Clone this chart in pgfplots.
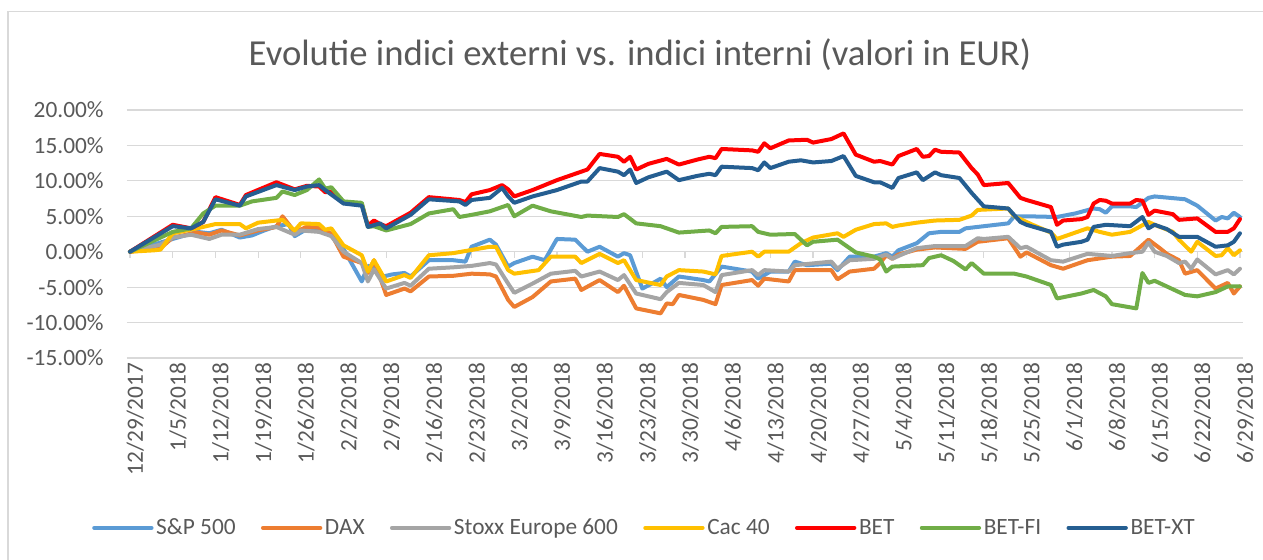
\documentclass[border=0pt]{standalone}
\usepackage{pgfplots}
\pgfplotsset{compat=1.18}
\usepackage{fontspec}
\setmainfont{Carlito}
\definecolor{txt}{HTML}{595959}
\definecolor{gridc}{HTML}{D9D9D9}
\definecolor{csp}{HTML}{5B9BD5}
\definecolor{cdax}{HTML}{ED7D31}
\definecolor{cstoxx}{HTML}{A5A5A5}
\definecolor{ccac}{HTML}{FFC000}
\definecolor{cbet}{HTML}{FF0000}
\definecolor{cbetfi}{HTML}{70AD47}
\definecolor{cbetxt}{HTML}{255E91}
\begin{document}
\begin{tikzpicture}
\useasboundingbox (0pt,0pt) rectangle (947.25pt,420pt);
\draw[gridc, line width=1pt] (6pt,0pt) -- (6pt,411.4pt) -- (947.25pt,411.4pt);
\node[txt, font=\fontsize{27.5}{32}\selectfont] at (480pt,378.75pt) {Evolutie indici externi vs. indici interni (valori in EUR)};
\begin{axis}[
  at={(95.25pt,151.5pt)}, anchor=south west,
  scale only axis, width=837pt, height=186pt,
  xmin=-0.5, xmax=182.5, ymin=-15, ymax=20,
  axis line style={draw=none},
  major tick length=0pt,
  ymajorgrids, grid style={gridc, line width=0.9pt},
  ytick={-15,-10,-5,0,5,10,15,20},
  yticklabels={-15.00\%,-10.00\%,-5.00\%,0.00\%,5.00\%,10.00\%,15.00\%,20.00\%},
  yticklabel style={txt, font=\fontsize{17.5}{20}\selectfont, xshift=-14pt},
  xtick={0,7,14,21,28,35,42,49,56,63,70,77,84,91,98,105,112,119,126,133,140,147,154,161,168,175,182},
  xticklabels={12/29/2017,1/5/2018,1/12/2018,1/19/2018,1/26/2018,2/2/2018,2/9/2018,2/16/2018,2/23/2018,3/2/2018,3/9/2018,3/16/2018,3/23/2018,3/30/2018,4/6/2018,4/13/2018,4/20/2018,4/27/2018,5/4/2018,5/11/2018,5/18/2018,5/25/2018,6/1/2018,6/8/2018,6/15/2018,6/22/2018,6/29/2018},
  xticklabel style={txt, font=\fontsize{17.5}{20}\selectfont, rotate=90, anchor=east, yshift=-4pt},
  every axis plot/.append style={line width=3pt, line join=round, line cap=round},
  legend columns=7,
  legend style={draw=none, fill=none, at={(0.464,-0.685)}, anchor=center, font=\fontsize{17.5}{20}\selectfont, text=txt,
    /tikz/every even column/.append style={column sep=17pt}},
  legend image code/.code={\draw[#1] (0pt,0pt) -- (43pt,0pt);},
  clip=false,
]
\pgfplotsinvokeforeach{0,7,14,21,28,35,42,49,56,63,70,77,84,91,98,105,112,119,126,133,140,147,154,161,168,175,182}{
  \draw[gridc, line width=0.9pt] (axis cs:#1,0) -- ([yshift=-5pt]axis cs:#1,0);
}
\draw[gridc, line width=0.9pt] (axis cs:-0.5,0) -- (axis cs:182.5,0);
% S&P 500
\addplot[csp, no markers] coordinates {(0,0)(5,1.3)(7,1.8)(11,2.8)(13,2.6)(15,3.1)(18,2.0)(20,2.3)(22,3.0)(24,3.6)(26,3.9)(27,2.2)(29,3.2)(31,3.3)(33,2.5)(35,0.4)(38,-4.2)(39,-2.0)(40,-2.2)(41,-3.6)(43,-3.2)(45,-3.0)(46,-3.5)(49,-1.2)(53,-1.2)(55,-1.4)(56,0.7)(59,1.7)(60,1.0)(62,-2.1)(63,-1.6)(66,-0.7)(68,-1.2)(70,1.8)(73,1.7)(75,0.0)(77,0.7)(80,-0.7)(81,-0.2)(82,-0.5)(84,-5.2)(86,-4.3)(87,-3.8)(88,-5.0)(90,-3.5)(94,-4.0)(95,-4.2)(97,-2.1)(102,-2.8)(103,-3.8)(105,-2.8)(108,-2.8)(109,-1.4)(111,-1.9)(115,-1.7)(116,-2.6)(118,-0.7)(122,-0.7)(124,-0.2)(125,-0.7)(126,0.2)(129,1.2)(131,2.6)(133,2.8)(136,2.8)(137,3.3)(140,3.6)(144,4.0)(145,5.0)(147,5.0)(152,4.9)(155,5.4)(158,6.1)(159,6.0)(160,5.5)(161,6.4)(164,6.4)(165,6.3)(167,7.6)(168,7.8)(173,7.4)(175,6.5)(178,4.4)(179,4.9)(180,4.7)(181,5.5)(182,4.9)};
\addlegendentry{S\&P 500}
% DAX
\addplot[cdax, no markers] coordinates {(0,0)(5,0.5)(7,2.0)(11,2.7)(13,2.4)(15,3.0)(18,2.3)(21,3.0)(24,3.5)(25,5.0)(27,2.8)(29,3.5)(31,3.4)(33,2.5)(35,-0.7)(38,-1.6)(39,-3.0)(40,-1.2)(42,-6.1)(45,-5.2)(46,-5.6)(49,-3.5)(53,-3.4)(56,-3.1)(59,-3.2)(60,-3.5)(62,-6.8)(63,-7.8)(66,-6.4)(69,-4.2)(73,-3.8)(74,-5.4)(77,-4.0)(80,-5.7)(81,-4.8)(83,-8.0)(87,-8.7)(88,-7.3)(89,-7.4)(90,-6.1)(94,-6.8)(96,-7.4)(97,-4.7)(102,-4.0)(103,-4.8)(104,-3.8)(108,-4.2)(109,-2.6)(115,-2.6)(116,-3.9)(118,-2.8)(122,-2.4)(123,-1.6)(124,-0.5)(125,-1.0)(126,-0.4)(129,0.3)(132,0.6)(137,0.4)(139,1.4)(144,1.9)(146,-0.7)(147,-0.1)(151,-1.9)(153,-2.4)(157,-1.2)(161,-0.7)(164,-0.6)(167,1.7)(169,0.4)(170,-0.3)(172,-1.2)(173,-3.1)(175,-2.6)(178,-5.2)(180,-4.4)(181,-5.9)(182,-4.9)};
\addlegendentry{DAX}
% Stoxx Europe 600
\addplot[cstoxx, no markers] coordinates {(0,0)(5,1.0)(7,2.0)(10,2.4)(13,1.8)(15,2.4)(18,2.4)(21,3.2)(24,3.5)(27,2.4)(28,3.0)(31,2.8)(33,2.2)(35,0.0)(38,-1.6)(39,-4.2)(40,-2.5)(42,-5.2)(45,-4.4)(46,-4.8)(49,-2.4)(53,-2.2)(56,-2.0)(59,-1.6)(60,-1.8)(62,-4.5)(63,-5.8)(66,-4.5)(69,-3.1)(73,-2.7)(74,-3.5)(77,-2.8)(80,-4.0)(81,-3.3)(83,-5.9)(87,-6.7)(88,-5.7)(90,-4.4)(94,-4.7)(96,-5.7)(97,-3.3)(102,-2.6)(103,-3.3)(104,-2.6)(108,-2.8)(109,-1.9)(115,-1.4)(116,-2.4)(118,-1.2)(122,-1.0)(124,-0.4)(125,-1.0)(126,-0.6)(129,0.5)(132,0.8)(137,0.8)(139,1.9)(140,1.8)(144,2.1)(146,0.5)(147,0.7)(151,-1.2)(153,-1.4)(157,-0.3)(161,-0.6)(164,-0.2)(166,0.0)(167,1.3)(168,0.0)(170,-0.6)(172,-1.6)(173,-1.4)(174,-2.4)(175,-1.1)(178,-3.2)(180,-2.6)(181,-3.2)(182,-2.4)};
\addlegendentry{Stoxx Europe 600}
% Cac 40
\addplot[ccac, no markers] coordinates {(0,0)(4,0.2)(5,0.3)(7,2.6)(11,3.3)(14,3.9)(18,3.9)(19,3.3)(21,4.1)(24,4.4)(25,4.5)(27,3.0)(28,4.0)(31,3.9)(32,3.1)(33,3.3)(35,0.9)(38,-0.5)(39,-2.8)(40,-1.2)(42,-4.2)(45,-3.3)(46,-3.7)(49,-0.5)(53,-0.2)(59,0.7)(60,0.7)(62,-2.6)(63,-3.1)(67,-2.6)(69,-0.7)(73,-0.7)(74,-1.6)(77,-0.3)(80,-1.6)(81,-1.2)(83,-4.0)(87,-4.7)(88,-3.5)(90,-2.6)(94,-2.8)(96,-3.2)(97,-0.6)(102,0.0)(103,-0.7)(104,0.0)(108,0.0)(110,1.2)(112,2.0)(116,2.6)(117,2.1)(119,3.1)(122,3.9)(124,4.0)(125,3.5)(126,3.7)(129,4.1)(132,4.4)(136,4.5)(138,5.1)(139,5.9)(144,6.1)(145,5.0)(148,3.8)(151,2.7)(152,1.8)(157,3.3)(159,2.8)(161,2.4)(164,2.8)(167,4.2)(168,3.8)(171,2.8)(172,1.7)(174,0.0)(175,1.4)(178,-0.6)(179,-0.5)(180,0.5)(181,-0.5)(182,0.2)};
\addlegendentry{Cac 40}
% BET
\addplot[cbet, no markers] coordinates {(0,0)(7,3.8)(10,3.3)(12,4.2)(14,7.7)(18,6.6)(19,8.0)(24,9.8)(27,8.8)(29,9.3)(31,9.2)(32,8.4)(33,8.5)(35,6.9)(38,6.7)(39,3.7)(40,4.4)(41,3.9)(42,3.6)(46,5.5)(49,7.7)(54,7.3)(55,7.0)(56,8.1)(59,8.7)(61,9.4)(62,8.8)(63,7.8)(66,8.7)(68,9.4)(70,10.1)(74,11.3)(75,11.6)(77,13.8)(80,13.4)(81,12.7)(82,13.4)(83,11.6)(85,12.4)(88,13.1)(90,12.3)(93,13.0)(95,13.4)(96,13.2)(97,14.5)(102,14.3)(103,14.1)(104,15.3)(105,14.6)(108,15.7)(111,15.8)(112,15.4)(115,15.9)(117,16.7)(119,13.7)(122,12.7)(123,12.8)(125,12.3)(126,13.5)(129,14.5)(130,13.4)(131,13.5)(132,14.4)(133,14.1)(136,14.0)(138,11.8)(139,10.9)(140,9.4)(144,9.7)(146,7.6)(147,7.3)(151,6.3)(152,3.8)(153,4.4)(156,4.6)(157,4.9)(158,6.8)(159,7.3)(160,7.2)(161,6.8)(164,6.8)(165,7.3)(166,7.2)(167,5.2)(168,5.8)(171,5.3)(172,4.5)(175,4.7)(178,2.8)(180,2.8)(181,3.3)(182,4.6)};
\addlegendentry{BET}
% BET-FI
\addplot[cbetfi, no markers] coordinates {(0,0)(7,2.8)(10,3.3)(12,5.4)(14,6.5)(18,6.5)(20,7.1)(24,7.6)(25,8.5)(27,8.0)(29,8.7)(31,10.2)(32,8.9)(33,9.1)(35,7.1)(38,6.9)(39,3.5)(40,3.6)(42,3.0)(46,3.9)(49,5.4)(53,6.0)(54,4.9)(56,5.2)(59,5.7)(62,6.6)(63,5.0)(66,6.5)(69,5.7)(74,4.9)(75,5.1)(80,4.9)(81,5.3)(83,4.0)(87,3.6)(90,2.7)(95,3.0)(96,2.6)(97,3.5)(102,3.6)(103,2.8)(105,2.4)(109,2.5)(111,0.9)(112,1.4)(116,1.7)(119,-0.1)(122,-0.7)(123,-1.1)(124,-2.8)(125,-2.1)(130,-1.9)(131,-0.9)(133,-0.5)(135,-1.3)(137,-2.5)(138,-1.6)(140,-3.1)(145,-3.1)(147,-3.5)(151,-4.7)(152,-6.6)(156,-5.9)(158,-5.4)(160,-6.3)(161,-7.4)(165,-8.0)(166,-3.0)(167,-4.4)(168,-4.1)(170,-4.9)(173,-6.1)(175,-6.3)(178,-5.7)(180,-4.9)(182,-4.9)};
\addlegendentry{BET-FI}
% BET-XT
\addplot[cbetxt, no markers] coordinates {(0,0)(7,3.6)(10,3.3)(12,4.2)(14,7.4)(18,6.5)(19,7.8)(24,9.4)(27,8.7)(29,9.2)(31,9.4)(32,8.7)(35,6.8)(38,6.5)(39,3.5)(41,4.0)(42,3.3)(46,5.2)(49,7.4)(54,7.1)(55,6.6)(56,7.3)(59,7.6)(61,9.0)(62,7.8)(63,6.9)(66,7.8)(70,8.7)(74,9.9)(75,9.9)(77,11.8)(80,11.3)(81,10.8)(82,11.6)(83,9.7)(85,10.5)(88,11.3)(90,10.1)(93,10.7)(95,11.0)(96,10.8)(97,12.0)(102,11.8)(103,11.5)(104,12.6)(105,11.8)(108,12.7)(110,12.9)(112,12.6)(115,12.8)(117,13.5)(119,10.7)(122,9.8)(123,9.8)(125,9.0)(126,10.4)(129,11.2)(130,10.1)(132,11.2)(133,10.8)(136,10.4)(138,8.3)(140,6.4)(144,6.1)(146,4.2)(147,3.8)(151,2.8)(152,0.7)(153,1.0)(156,1.4)(157,1.7)(158,3.5)(160,3.8)(164,3.6)(166,4.9)(167,3.3)(168,3.8)(170,3.2)(172,2.1)(175,2.1)(178,0.7)(180,0.9)(181,1.4)(182,2.6)};
\addlegendentry{BET-XT}
\end{axis}
\end{tikzpicture}
\end{document}
